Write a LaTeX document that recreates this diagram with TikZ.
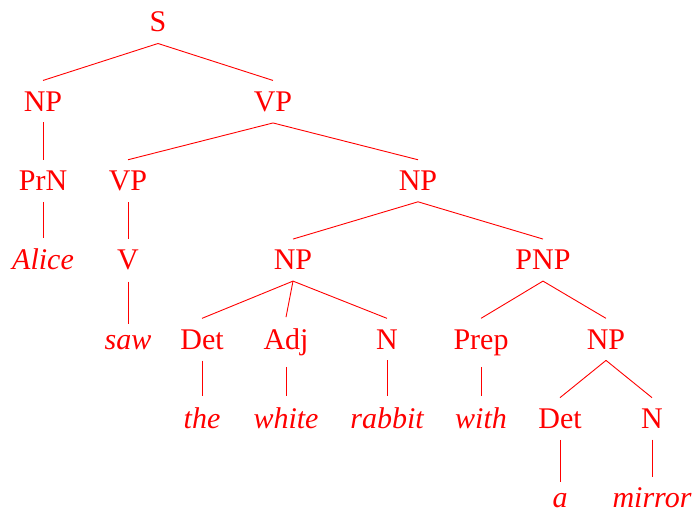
\documentclass[tikz,border=0pt]{standalone}
\usepackage{fontspec}
\setmainfont{Liberation Serif}
\begin{document}
\begin{tikzpicture}[x=1pt,y=-1pt,
  lab/.style={text=red, font=\fontsize{30}{36}\selectfont, anchor=base, inner xsep=0pt, inner ysep=11pt},
  lex/.style={lab, font=\fontsize{30}{36}\selectfont\itshape},
  br/.style={red, line width=0.9pt}]
\useasboundingbox (0,0) rectangle (695,513);
\def\rA{32}\def\rB{111.3}\def\rC{190.6}\def\rD{269.9}\def\rE{349.2}\def\rF{428.5}\def\rG{507.8}
\node[lab] (s) at (158,\rA) {S};
\node[lab] (np1) at (43,\rB) {NP};
\node[lab] (vp1) at (273,\rB) {VP};
\node[lab] (prn) at (43,\rC) {PrN};
\node[lab] (vp2) at (128,\rC) {VP};
\node[lab] (np2) at (418,\rC) {NP};
\node[lex] (alice) at (43,\rD) {Alice};
\node[lab] (v) at (128,\rD) {V};
\node[lab] (np3) at (293,\rD) {NP};
\node[lab] (pnp) at (543,\rD) {PNP};
\node[lex] (saw) at (128,\rE) {saw};
\node[lab] (det1) at (202,\rE) {Det};
\node[lab] (adj) at (286,\rE) {Adj};
\node[lab] (n1) at (387,\rE) {N};
\node[lab] (prep) at (481,\rE) {Prep};
\node[lab] (np4) at (606,\rE) {NP};
\node[lex] (the) at (202,\rF) {the};
\node[lex] (white) at (286,\rF) {white};
\node[lex] (rabbit) at (387,\rF) {rabbit};
\node[lex] (with) at (481,\rF) {with};
\node[lab] (det2) at (560,\rF) {Det};
\node[lab] (n2) at (652,\rF) {N};
\node[lex] (a) at (560,\rG) {a};
\node[lex] (mirror) at (652,\rG) {mirror};
\foreach \p/\c in {s/np1, s/vp1, np1/prn, vp1/vp2, vp1/np2, prn/alice, vp2/v,
  np2/np3, np2/pnp, v/saw, np3/det1, np3/adj, np3/n1, pnp/prep, pnp/np4,
  det1/the, adj/white, n1/rabbit, prep/with, np4/det2, np4/n2, det2/a, n2/mirror}
  \draw[br] (\p.south) -- (\c.north);
\end{tikzpicture}
\end{document}
